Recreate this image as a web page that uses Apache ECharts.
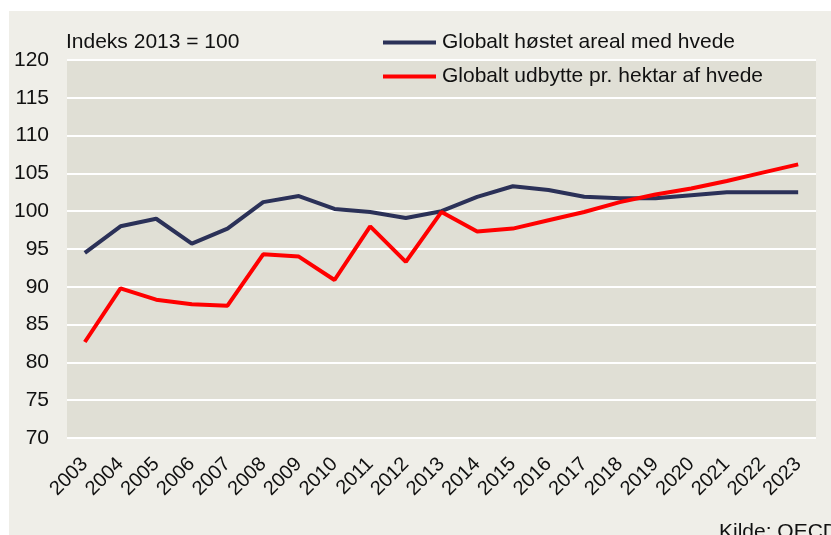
<!DOCTYPE html>
<html>
<head>
<meta charset="utf-8">
<script src="https://cdn.jsdelivr.net/npm/echarts@6/dist/echarts.min.js"></script>
<style>html,body{margin:0;padding:0;background:#fff;}#c{width:831px;height:535px;}</style>
</head>
<body>
<div id="c"></div>
<script>
const years = ['2003','2004','2005','2006','2007','2008','2009','2010','2011','2012','2013','2014','2015','2016','2017','2018','2019','2020','2021','2022','2023'];
const arealName = 'Globalt høstet areal med hvede';
const udbytteName = 'Globalt udbytte pr. hektar af hvede';
const areal = [94.5, 98.0, 99.0, 95.7, 97.7, 101.2, 102.0, 100.3, 99.9, 99.1, 100.0, 101.9, 103.3, 102.8, 101.9, 101.7, 101.7, 102.1, 102.5, 102.5, 102.5];
const udbytte = [82.7, 89.8, 88.3, 87.7, 87.5, 94.3, 94.0, 90.9, 98.0, 93.3, 99.9, 97.3, 97.7, 98.8, 99.9, 101.2, 102.2, 103.0, 104.0, 105.1, 106.2];
const yMin = 70, yMax = 120, yStep = 5;
const indexNote = 'Indeks 2013 = 100';
const sourceNote = 'Kilde: OECD';

const font = 'Arial, "Liberation Sans", sans-serif';
const chart = echarts.init(document.getElementById('c'), null, {renderer: 'canvas'});
chart.setOption({
  animation: false,
  backgroundColor: '#ffffff',
  graphic: [
    {type: 'rect', z: -10, shape: {x: 9, y: 11, width: 830, height: 530}, style: {fill: '#EFEEE8'}},
    {type: 'text', x: 66, y: 32, style: {text: indexNote, font: '21px ' + font, fill: '#111'}},
    {type: 'text', x: 719, y: 543, style: {text: sourceNote, font: '21px ' + font, fill: '#111', verticalAlign: 'bottom'}}
  ],
  legend: {
    orient: 'vertical',
    left: 383,
    top: 32,
    padding: 0,
    itemWidth: 53,
    itemHeight: 4,
    itemGap: 13,
    icon: 'rect',
    textStyle: {fontSize: 21, fontFamily: font, color: '#111', lineHeight: 21, padding: [0, 0, 0, 1]},
    data: [arealName, udbytteName]
  },
  grid: {left: 67, right: 15, top: 60, bottom: 97, show: true, backgroundColor: '#E0DFD5', borderWidth: 0},
  xAxis: {
    type: 'category',
    data: years,
    boundaryGap: true,
    axisLine: {show: false},
    axisTick: {show: false},
    axisLabel: {rotate: 45, fontSize: 20, fontFamily: font, color: '#111', margin: 23, interval: 0}
  },
  yAxis: {
    type: 'value',
    min: yMin, max: yMax, interval: yStep,
    axisLine: {show: false},
    axisTick: {show: false},
    axisLabel: {fontSize: 21, fontFamily: font, color: '#111', margin: 18},
    splitLine: {show: true, lineStyle: {color: '#ffffff', width: 2}}
  },
  series: [
    {name: arealName, type: 'line', data: areal, symbol: 'none', lineStyle: {color: '#2B3158', width: 4}, itemStyle: {color: '#2B3158'}},
    {name: udbytteName, type: 'line', data: udbytte, symbol: 'none', lineStyle: {color: '#FF0000', width: 4}, itemStyle: {color: '#FF0000'}}
  ]
});
</script>
</body>
</html>
